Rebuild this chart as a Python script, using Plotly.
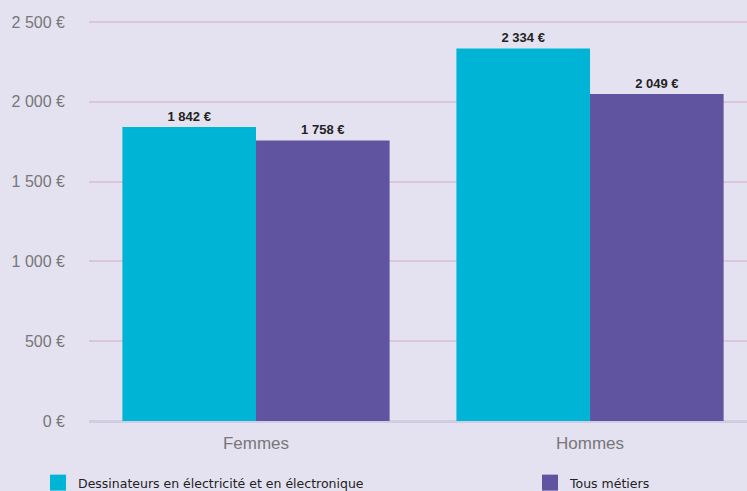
import plotly.graph_objects as go

categories = ["Femmes", "Hommes"]
series_names = ["Dessinateurs en électricité et en électronique", "Tous métiers"]
dessinateurs = [1842, 2334]
tous_metiers = [1758, 2049]
tick_vals = [0, 500, 1000, 1500, 2000, 2500]
tick_text = ["0 €", "500 €", "1 000 €", "1 500 €", "2 000 €", "2 500 €"]
colors = ["#00b4d6", "#6054a0"]

def fmt(v):
    return f"{v:,}".replace(",", " ") + " €"

fig = go.Figure()
legends = ["legend", "legend2"]
for name, vals, col, lg in zip(series_names, [dessinateurs, tous_metiers], colors, legends):
    fig.add_trace(go.Bar(
        x=categories, y=vals, name=name, marker=dict(color=col, line=dict(width=0)),
        text=[fmt(v) for v in vals], textposition="outside", constraintext="none",
        textfont=dict(family="Liberation Sans, Arial", size=13, color="#222222", weight="bold"),
        cliponaxis=False, showlegend=False,
    ))
    # legend swatch entry (no data drawn)
    fig.add_trace(go.Scatter(
        x=[None], y=[None], mode="markers", name=name, legend=lg,
        marker=dict(symbol="square", size=16, color=col), showlegend=True,
    ))

leg_common = dict(orientation="h", xref="container", yref="container",
                  xanchor="left", yanchor="middle", bgcolor="rgba(0,0,0,0)",
                  itemsizing="trace",
                  font=dict(family="DejaVu Sans", size=12.5, color="#222222"))

fig.update_layout(
    width=747, height=491,
    paper_bgcolor="#e4e2f0", plot_bgcolor="#e4e2f0",
    margin=dict(l=89, r=0, t=10, b=70),
    barmode="group", bargap=0.2, bargroupgap=0,
    font=dict(family="Liberation Sans, Arial", color="#777777"),
    xaxis=dict(type="category", range=[-0.5, 1.47], showgrid=False, showline=False, zeroline=False,
               tickfont=dict(size=17, color="#777777"), ticks="", ticklabelstandoff=10,
               automargin=False),
    yaxis=dict(range=[0, 2575], tickvals=tick_vals, ticktext=tick_text,
               showgrid=True, gridcolor="#dcc6de", gridwidth=2,
               zeroline=True, zerolinecolor="#cfcde3", zerolinewidth=3,
               tickfont=dict(size=16, color="#777777"), ticklabelstandoff=23,
               automargin=False),
    legend=dict(x=38 / 747, y=8 / 491, **leg_common),
    legend2=dict(x=530 / 747, y=8 / 491, **leg_common),
    showlegend=True,
)

fig.write_html("out.html", config={"displayModeBar": False},
               post_script="document.body.style.margin='0';")
